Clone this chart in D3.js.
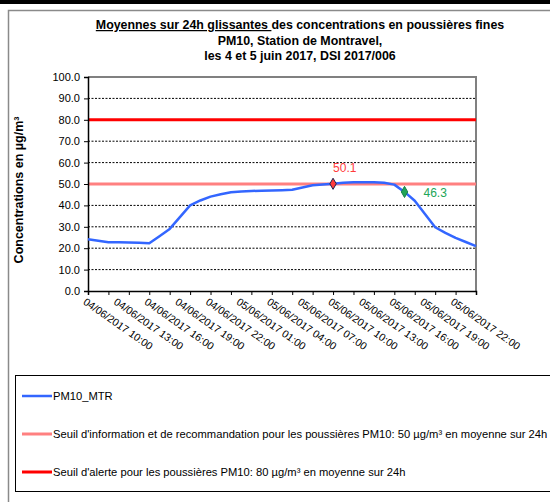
<!DOCTYPE html>
<html>
<head>
<meta charset="utf-8">
<script src="https://cdn.jsdelivr.net/npm/d3@7"></script>
<style>
  body { margin: 0; background: #fff; }
  svg { display: block; font-family: Arial, "Liberation Sans", sans-serif; }
</style>
</head>
<body>
<svg id="chart" width="550" height="502"></svg>
<script>
// hourly timestamps, 04/06/2017 10:00 -> 06/06/2017 00:00
const HOURS = [
  '04/06/2017 10:00', '04/06/2017 11:00', '04/06/2017 12:00', '04/06/2017 13:00',
  '04/06/2017 14:00', '04/06/2017 15:00', '04/06/2017 16:00', '04/06/2017 17:00',
  '04/06/2017 18:00', '04/06/2017 19:00', '04/06/2017 20:00', '04/06/2017 21:00',
  '04/06/2017 22:00', '04/06/2017 23:00', '05/06/2017 00:00', '05/06/2017 01:00',
  '05/06/2017 02:00', '05/06/2017 03:00', '05/06/2017 04:00', '05/06/2017 05:00',
  '05/06/2017 06:00', '05/06/2017 07:00', '05/06/2017 08:00', '05/06/2017 09:00',
  '05/06/2017 10:00', '05/06/2017 11:00', '05/06/2017 12:00', '05/06/2017 13:00',
  '05/06/2017 14:00', '05/06/2017 15:00', '05/06/2017 16:00', '05/06/2017 17:00',
  '05/06/2017 18:00', '05/06/2017 19:00', '05/06/2017 20:00', '05/06/2017 21:00',
  '05/06/2017 22:00', '05/06/2017 23:00', '06/06/2017 00:00'
];
const PM10_MTR = [
  24.2, 23.5, 22.8, 22.8, 22.7, 22.6, 22.3, 25.6, 29.0, 34.5,
  40.0, 42.3, 44.1, 45.2, 46.1, 46.5, 46.7, 46.9, 47.0, 47.1,
  47.3, 48.4, 49.4, 49.8, 50.1, 50.6, 50.8, 50.8, 50.8, 50.6,
  49.7, 46.3, 42.2, 36.0, 29.8, 27.2, 24.8, 22.9, 21.0
];
const TICK_LABELS = [
  '04/06/2017 10:00', '04/06/2017 13:00', '04/06/2017 16:00', '04/06/2017 19:00',
  '04/06/2017 22:00', '05/06/2017 01:00', '05/06/2017 04:00', '05/06/2017 07:00',
  '05/06/2017 10:00', '05/06/2017 13:00', '05/06/2017 16:00', '05/06/2017 19:00',
  '05/06/2017 22:00'
];
const Y_TICKS = [0, 10, 20, 30, 40, 50, 60, 70, 80, 90, 100];
const SEUIL_INFO = 50;
const SEUIL_ALERTE = 80;
// highlighted points: [timestamp, value, colour]
const HIGHLIGHTS = [
  ['05/06/2017 10:00', 50.1, '#ff3b3b'],
  ['05/06/2017 17:00', 46.3, '#21a557']
];
const LEGEND = [
  ['PM10_MTR', '#3366ff'],
  ['Seuil d\'information et de recommandation pour les poussières PM10: 50 µg/m³ en moyenne sur 24h', '#ff8080'],
  ['Seuil d\'alerte pour les poussières PM10: 80 µg/m³ en moyenne sur 24h', '#ff0000']
];

(function () {
  let svg = d3.select('#chart'),
    plotLeft = 88, plotRight = 476, plotTop = 77, plotBottom = 291;

  let x = d3.scalePoint().domain(HOURS).range([plotLeft, plotRight]);
  let y = d3.scaleLinear().domain([0, 100]).range([plotBottom, plotTop]);

  /*
   * frame
   */
  svg.append('rect').attr('x', 0).attr('y', 0).attr('width', 550).attr('height', 4).attr('fill', '#000');
  svg.append('path')
    .attr('d', 'M8.5,502 V10.5 H550')
    .attr('fill', 'none').attr('stroke', '#8a8a8a').attr('stroke-width', 1.5);

  /*
   * title
   */
  let title = svg.append('text')
    .attr('text-anchor', 'middle')
    .attr('font-weight', 'bold')
    .attr('font-size', 12.4)
    .attr('fill', '#000');
  let t1 = title.append('tspan').attr('x', 300).attr('y', 29);
  t1.append('tspan').attr('text-decoration', 'underline').text('Moyennes sur 24h glissantes ');
  t1.append('tspan').text('des concentrations en poussières fines');
  title.append('tspan').attr('x', 300).attr('y', 45).text('PM10, Station de Montravel,');
  title.append('tspan').attr('x', 300).attr('y', 60).text('les 4 et 5 juin 2017, DSI 2017/006');

  /*
   * grid
   */
  svg.append('g')
    .selectAll('line')
    .data(Y_TICKS.filter(d => d > 0 && d < 100))
    .enter()
    .append('line')
    .attr('x1', plotLeft).attr('x2', plotRight)
    .attr('y1', d => y(d)).attr('y2', d => y(d))
    .attr('stroke', '#000')
    .attr('stroke-width', 1)
    .attr('stroke-dasharray', '2,1.5');

  // plot border (top + right)
  svg.append('path')
    .attr('d', `M${plotLeft},${y(100)} H${plotRight} V${plotBottom}`)
    .attr('fill', 'none').attr('stroke', '#808080').attr('stroke-width', 2);

  /*
   * threshold lines
   */
  [[SEUIL_INFO, '#ff8080'], [SEUIL_ALERTE, '#ff0000']].forEach(function (s) {
    svg.append('line')
      .attr('x1', plotLeft).attr('x2', plotRight)
      .attr('y1', y(s[0])).attr('y2', y(s[0]))
      .attr('stroke', s[1]).attr('stroke-width', 3);
  });

  /*
   * axes
   */
  let yAxis = svg.append('g')
    .attr('transform', `translate(${plotLeft},0)`)
    .call(d3.axisLeft(y).tickValues(Y_TICKS).tickSize(4).tickPadding(4).tickFormat(d3.format('.1f')));
  yAxis.select('.domain').attr('stroke', '#000').attr('stroke-width', 1.5);
  yAxis.selectAll('text').attr('font-size', 11).attr('fill', '#000').attr('font-family', 'Arial, "Liberation Sans", sans-serif');

  let xAxis = svg.append('g')
    .attr('transform', `translate(0,${plotBottom})`)
    .call(d3.axisBottom(x).tickValues(HOURS.filter((d, i) => i % 2 === 0)).tickSize(4).tickFormat(''));
  xAxis.select('.domain').attr('stroke', '#000').attr('stroke-width', 1.5);

  svg.append('g')
    .selectAll('text')
    .data(TICK_LABELS)
    .enter()
    .append('text')
    .attr('transform', d => `translate(${x(d) - 1},${plotBottom + 6}) rotate(35)`)
    .attr('dy', '0.75em')
    .attr('font-size', 10.5)
    .attr('fill', '#000')
    .text(d => d);

  /*
   * y title
   */
  svg.append('text')
    .attr('transform', 'translate(22.5,190) rotate(-90)')
    .attr('text-anchor', 'middle')
    .attr('font-weight', 'bold')
    .attr('font-size', 12.5)
    .text('Concentrations en µg/m³');

  /*
   * series
   */
  let line = d3.line()
    .x((d, i) => x(HOURS[i]))
    .y(d => y(d));
  svg.append('path')
    .datum(PM10_MTR)
    .attr('d', line)
    .attr('fill', 'none')
    .attr('stroke', '#3366ff')
    .attr('stroke-width', 2.5)
    .attr('stroke-linejoin', 'round');

  /*
   * highlighted points
   */
  let diamond = d3.symbol().type(d3.symbolDiamond).size(36);
  svg.append('path')
    .attr('d', diamond)
    .attr('transform', `translate(${x(HIGHLIGHTS[0][0])},${y(HIGHLIGHTS[0][1])})`)
    .attr('fill', HIGHLIGHTS[0][2]).attr('stroke', '#1e2350').attr('stroke-width', 1);
  svg.append('path')
    .attr('d', diamond)
    .attr('transform', `translate(${x(HIGHLIGHTS[1][0])},${y(HIGHLIGHTS[1][1])})`)
    .attr('fill', HIGHLIGHTS[1][2]).attr('stroke', '#16804a').attr('stroke-width', 1);

  svg.append('text')
    .attr('x', x(HIGHLIGHTS[0][0])).attr('y', y(HIGHLIGHTS[0][1]) - 12)
    .attr('font-size', 12).attr('fill', HIGHLIGHTS[0][2])
    .text(HIGHLIGHTS[0][1].toFixed(1));
  svg.append('text')
    .attr('x', x(HIGHLIGHTS[1][0]) + 19).attr('y', y(HIGHLIGHTS[1][1]) + 5)
    .attr('font-size', 12).attr('fill', HIGHLIGHTS[1][2])
    .text(HIGHLIGHTS[1][1].toFixed(1));

  /*
   * legend
   */
  svg.append('rect')
    .attr('x', 15.5).attr('y', 375.5).attr('width', 540).attr('height', 116)
    .attr('fill', 'none').attr('stroke', '#000').attr('stroke-width', 1);

  let legendRows = svg.append('g')
    .selectAll('g')
    .data(LEGEND)
    .enter()
    .append('g')
    .attr('transform', (d, i) => `translate(0,${396 + i * 38})`);
  legendRows.append('line')
    .attr('x1', 22).attr('x2', 52).attr('y1', 0).attr('y2', 0)
    .attr('stroke', d => d[1]).attr('stroke-width', (d, i) => i === 0 ? 2.5 : 3);
  legendRows.append('text')
    .attr('x', 53).attr('y', 4)
    .attr('font-size', 11.2)
    .attr('fill', '#000')
    .text(d => d[0]);
}());
</script>
</body>
</html>
